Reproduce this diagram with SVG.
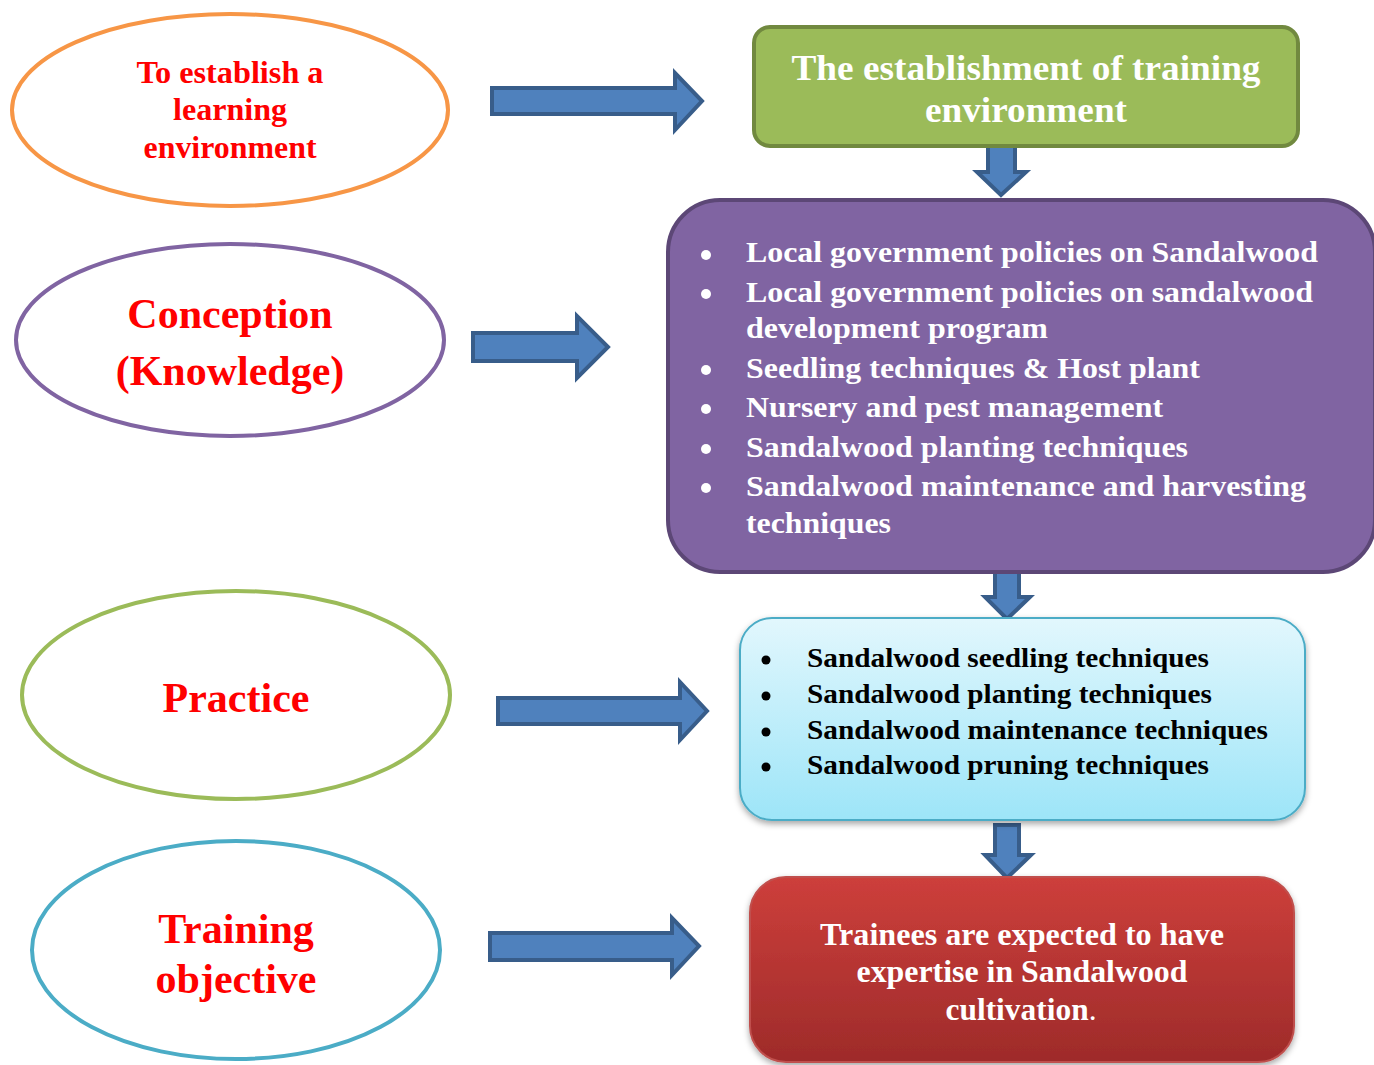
<svg xmlns="http://www.w3.org/2000/svg" width="1374" height="1065" viewBox="0 0 1374 1065">
<defs>
<linearGradient id="gBlue" x1="0" y1="0" x2="0" y2="1"><stop offset="0" stop-color="#E2F7FD"/><stop offset="1" stop-color="#9DE5F8"/></linearGradient>
<linearGradient id="gRed" x1="0" y1="0" x2="0" y2="1"><stop offset="0" stop-color="#CD3F3B"/><stop offset="1" stop-color="#9E2B2A"/></linearGradient>
<filter id="sh" x="-5%" y="-5%" width="110%" height="115%"><feDropShadow dx="0" dy="3" stdDeviation="3" flood-color="#000" flood-opacity="0.35"/></filter>
<style>
text{font-family:"Liberation Serif","Times New Roman",serif;font-weight:bold}
.el{fill:#fff;stroke-width:4}
.red{fill:#FF0000;text-anchor:middle}
.arr{fill:#4F81BD;stroke:#385D8A;stroke-width:4;stroke-linejoin:miter}
.w{fill:#fff}
.b{fill:#000}
</style>
</defs>
<g id="connectors">
<path class="arr" d="M492,88 H675 V73 L702,101 L675,130 V114 H492 Z"/>
<path class="arr" d="M473,333 H577 V316 L608,347 L577,378 V361 H473 Z"/>
<path class="arr" d="M498,698 H680 V682 L707,711 L680,740 V724 H498 Z"/>
<path class="arr" d="M490,933 H672 V918 L699,946 L672,975 V960 H490 Z"/>
<path class="arr" d="M988,140 H1015 V172 H1026 L1001,195 L977,172 H988 Z"/>
<path class="arr" d="M995,572 H1019 V597 H1030 L1007,619 L985,597 H995 Z"/>
<path class="arr" d="M995,825 H1019 V855 H1031 L1007,878 L985,855 H995 Z"/>
</g>
<g id="node-establish-ellipse">
<ellipse class="el" cx="230" cy="110" rx="218" ry="96" stroke="#F79646"/>
<text class="red" font-size="32" x="230" y="83" textLength="187" lengthAdjust="spacingAndGlyphs">To establish a</text>
<text class="red" font-size="32" x="230" y="120" textLength="114" lengthAdjust="spacingAndGlyphs">learning</text>
<text class="red" font-size="32" x="230" y="158" textLength="173" lengthAdjust="spacingAndGlyphs">environment</text>
</g>
<g id="node-conception">
<ellipse class="el" cx="230" cy="340" rx="214" ry="96" stroke="#8064A2"/>
<text class="red" font-size="42"><tspan x="230" y="328">Conception</tspan><tspan x="230" y="385">(Knowledge)</tspan></text>
</g>
<g id="node-practice">
<ellipse class="el" cx="236" cy="695" rx="214" ry="104" stroke="#9BBB59"/>
<text class="red" font-size="42" x="236" y="712">Practice</text>
</g>
<g id="node-objective">
<ellipse class="el" cx="236" cy="950" rx="204" ry="109" stroke="#4BACC6"/>
<text class="red" font-size="42"><tspan x="236" y="943">Training</tspan><tspan x="236" y="993">objective</tspan></text>
</g>
<g id="node-training-env">
<rect x="754" y="27" width="544" height="119" rx="16" fill="#9BBB59" stroke="#71893F" stroke-width="4"/>
<text class="w" font-size="36" text-anchor="middle" x="1026" y="80" textLength="469" lengthAdjust="spacingAndGlyphs">The establishment of training</text>
<text class="w" font-size="36" text-anchor="middle" x="1026" y="122" textLength="202" lengthAdjust="spacingAndGlyphs">environment</text>
</g>
<g id="node-knowledge">
<rect x="668" y="200" width="707" height="372" rx="52" fill="#8064A2" stroke="#5C4776" stroke-width="4"/>
<g class="w" font-size="30">
<circle cx="706" cy="255" r="5"/><circle cx="706" cy="294" r="5"/><circle cx="706" cy="370" r="5"/><circle cx="706" cy="409" r="5"/><circle cx="706" cy="449" r="5"/><circle cx="706" cy="488" r="5"/>
<text x="746" y="262" textLength="572" lengthAdjust="spacingAndGlyphs">Local government policies on Sandalwood</text>
<text x="746" y="302" textLength="567" lengthAdjust="spacingAndGlyphs">Local government policies on sandalwood</text>
<text x="746" y="338" textLength="302" lengthAdjust="spacingAndGlyphs">development program</text>
<text x="746" y="378" textLength="454" lengthAdjust="spacingAndGlyphs">Seedling techniques &amp; Host plant</text>
<text x="746" y="417" textLength="417" lengthAdjust="spacingAndGlyphs">Nursery and pest management</text>
<text x="746" y="457" textLength="442" lengthAdjust="spacingAndGlyphs">Sandalwood planting techniques</text>
<text x="746" y="496" textLength="560" lengthAdjust="spacingAndGlyphs">Sandalwood maintenance and harvesting</text>
<text x="746" y="533" textLength="145" lengthAdjust="spacingAndGlyphs">techniques</text>
</g>
</g>
<g id="node-practice-list">
<rect x="740" y="618" width="565" height="202" rx="32" fill="url(#gBlue)" stroke="#4BACC6" stroke-width="2" filter="url(#sh)"/>
<g class="b" font-size="27">
<circle cx="766" cy="660" r="4.5"/><circle cx="766" cy="696" r="4.5"/><circle cx="766" cy="732" r="4.5"/><circle cx="766" cy="767" r="4.5"/>
<text x="807" y="667" textLength="402" lengthAdjust="spacingAndGlyphs">Sandalwood seedling techniques</text>
<text x="807" y="703" textLength="405" lengthAdjust="spacingAndGlyphs">Sandalwood planting techniques</text>
<text x="807" y="739" textLength="461" lengthAdjust="spacingAndGlyphs">Sandalwood maintenance techniques</text>
<text x="807" y="774" textLength="402" lengthAdjust="spacingAndGlyphs">Sandalwood pruning techniques</text>
</g>
</g>
<g id="node-objective-result">
<rect x="750" y="877" width="544" height="185" rx="36" fill="url(#gRed)" stroke="#C0504D" stroke-width="2" filter="url(#sh)"/>
<g class="w" font-size="32" text-anchor="middle">
<text x="1022" y="945" textLength="404" lengthAdjust="spacingAndGlyphs">Trainees are expected to have</text>
<text x="1022" y="982" textLength="331" lengthAdjust="spacingAndGlyphs">expertise in Sandalwood</text>
<text x="1021" y="1020" textLength="151" lengthAdjust="spacingAndGlyphs">cultivation<tspan font-weight="normal">.</tspan></text>
</g>
</g>
</svg>
